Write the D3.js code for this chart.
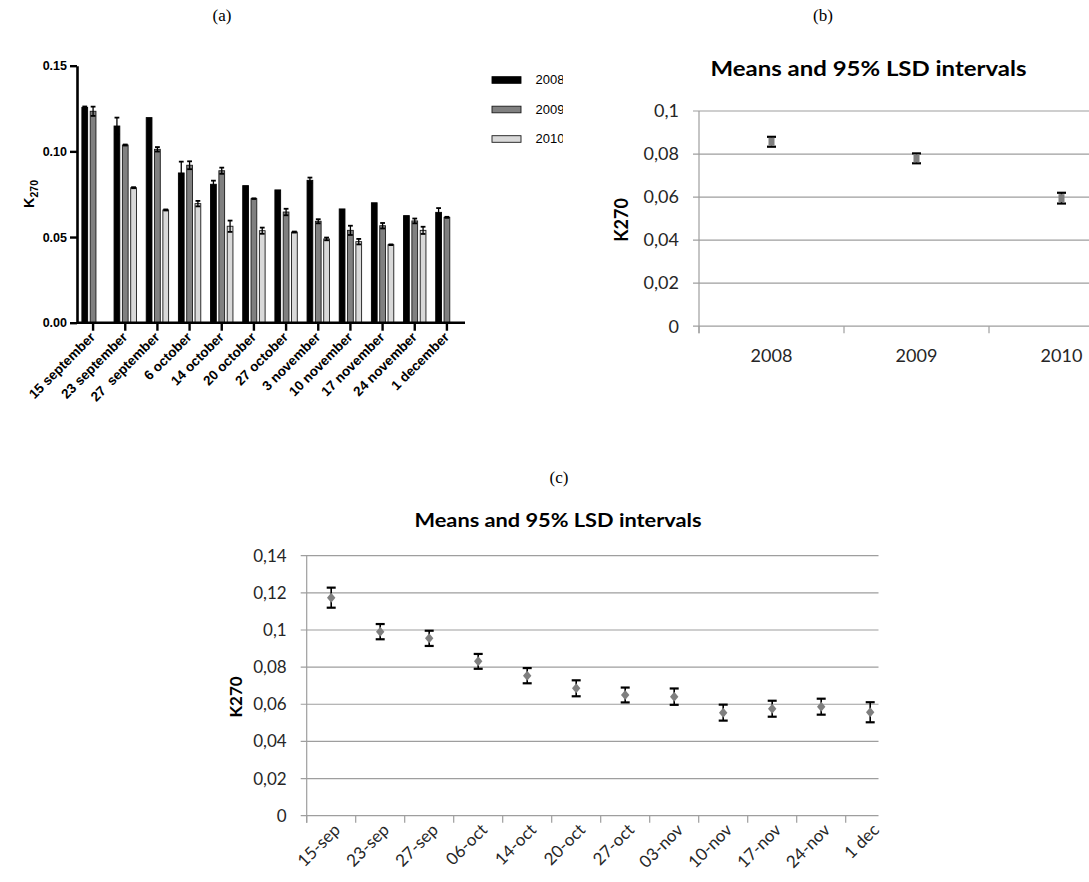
<!DOCTYPE html>
<html>
<head>
<meta charset="utf-8">
<script src="https://cdn.jsdelivr.net/npm/d3@7"></script>
<style>
  html, body { margin: 0; padding: 0; background: #fff; }
  svg { display: block; }
</style>
</head>
<body>
<svg id="fig" width="1089" height="882"></svg>
<script>
// ---------- (a) K270 by sampling date and season ----------
const datesA = ["15 september", "23 september", "27  september", "6 october", "14 october", "20 october",
                "27 october", "3 november", "10 november", "17 november", "24 november", "1 december"];
const yearsA = ["2008", "2009", "2010"];
const k2008 = [0.1257, 0.1148, 0.1197, 0.0874, 0.0808, 0.0800, 0.0775, 0.0831, 0.0664, 0.0700, 0.0625, 0.0644];
const e2008 = [0.0005, 0.0049, 0.0000, 0.0066, 0.0021, 0.0000, 0.0000, 0.0016, 0.0000, 0.0000, 0.0000, 0.0025];
const k2009 = [0.1234, 0.1037, 0.1012, 0.0919, 0.0887, 0.0724, 0.0646, 0.0592, 0.0539, 0.0566, 0.0594, 0.0615];
const e2009 = [0.0027, 0.0003, 0.0013, 0.0023, 0.0018, 0.0002, 0.0019, 0.0012, 0.0027, 0.0016, 0.0014, 0.0003];
const k2010 = [null, 0.0788, 0.0658, 0.0695, 0.0563, 0.0537, 0.0529, 0.0489, 0.0473, 0.0455, 0.0539, null];
const e2010 = [null, 0.0003, 0.0003, 0.0016, 0.0033, 0.0018, 0.0003, 0.0008, 0.0016, 0.0002, 0.0021, null];
const ticksA = [0, 0.05, 0.10, 0.15];

// ---------- (b) yearly means with 95% LSD intervals ----------
const yearsB = ["2008", "2009", "2010"];
const meansB = [0.0857, 0.0780, 0.0595];
const lsdB = [0.0023, 0.0023, 0.0025];
const ticksB = [0, 0.02, 0.04, 0.06, 0.08, 0.1];

// ---------- (c) date means with 95% LSD intervals ----------
const datesC = ["15-sep", "23-sep", "27-sep", "06-oct", "14-oct", "20-oct",
                "27-oct", "03-nov", "10-nov", "17-nov", "24-nov", "1 dec"];
const meansC = [0.1174, 0.0991, 0.0955, 0.0831, 0.0754, 0.0686, 0.0650, 0.0641, 0.0555, 0.0576, 0.0587, 0.0557];
const lsdC = [0.0054, 0.0041, 0.0041, 0.0040, 0.0041, 0.0043, 0.0040, 0.0044, 0.0043, 0.0043, 0.0043, 0.0054];
const ticksC = [0, 0.02, 0.04, 0.06, 0.08, 0.1, 0.12, 0.14];

const svg = d3.select("#fig");
const commaFmt = d => String(+d.toFixed(2)).replace(".", ",");

// panel letters
const serif = "'Liberation Serif', 'Times New Roman', serif";
[["(a)", 222, 21], ["(b)", 823, 21], ["(c)", 559, 483]].forEach(([t, x, y]) => {
  svg.append("text").attr("x", x).attr("y", y).attr("text-anchor", "middle")
    .style("font-family", serif).style("font-size", "17px").text(t);
});

// ================= panel (a): grouped bars =================
(function () {
  const sans = "'Liberation Sans', Arial, sans-serif";
  const g = svg.append("g");
  const y = d3.scaleLinear().domain([0, 0.15]).range([322.7, 65.7]);
  const x = d3.scaleBand().domain(datesA).range([77, 463]).padding(0);
  const xs = d3.scaleBand().domain(yearsA)
    .range([3.6, x.bandwidth() - 3.6]).paddingInner(0.31).paddingOuter(0.155);

  const series = [
    { year: "2008", vals: k2008, errs: e2008, fill: "#000000", stroke: "#000000" },
    { year: "2009", vals: k2009, errs: e2009, fill: "#808080", stroke: "#1a1a1a" },
    { year: "2010", vals: k2010, errs: e2010, fill: "#d9d9d9", stroke: "#1a1a1a" }
  ];
  const rows = [];
  series.forEach(s => s.vals.forEach((v, i) => {
    if (v != null) rows.push({ date: datesA[i], year: s.year, v, e: s.errs[i], fill: s.fill, stroke: s.stroke });
  }));

  g.selectAll("rect.bar").data(rows).join("rect").attr("class", "bar")
    .attr("x", d => x(d.date) + xs(d.year))
    .attr("width", xs.bandwidth())
    .attr("y", d => y(d.v))
    .attr("height", d => y(0) - y(d.v))
    .attr("fill", d => d.fill)
    .attr("stroke", d => d.stroke)
    .attr("stroke-width", 0.9);

  // error bars
  const eb = g.selectAll("g.err").data(rows.filter(d => d.e > 0)).join("g").attr("class", "err")
    .attr("stroke", "#000").attr("stroke-width", 1.3);
  const cx = d => x(d.date) + xs(d.year) + xs.bandwidth() / 2;
  eb.append("line").attr("x1", cx).attr("x2", cx).attr("y1", d => y(d.v - d.e)).attr("y2", d => y(d.v + d.e));
  eb.append("line").attr("x1", d => cx(d) - 2.4).attr("x2", d => cx(d) + 2.4)
    .attr("y1", d => y(d.v + d.e)).attr("y2", d => y(d.v + d.e)).attr("stroke-width", 1.8);
  eb.append("line").attr("x1", d => cx(d) - 2.4).attr("x2", d => cx(d) + 2.4)
    .attr("y1", d => y(d.v - d.e)).attr("y2", d => y(d.v - d.e)).attr("stroke-width", 1.8);

  // axes
  const yAxis = g.append("g").attr("transform", "translate(77,0)")
    .call(d3.axisLeft(y).tickValues(ticksA).tickFormat(d3.format(".2f")).tickSize(7).tickSizeOuter(0).tickPadding(3));
  const xAxis = g.append("g").attr("transform", "translate(0,322.7)")
    .call(d3.axisBottom(x).tickSize(8).tickSizeOuter(0).tickFormat(""));
  xAxis.select(".domain").attr("d", "M77,0H465");
  [yAxis, xAxis].forEach(a => {
    a.select(".domain").attr("stroke", "#000").attr("stroke-width", 2.6);
    a.selectAll(".tick line").attr("stroke", "#000").attr("stroke-width", 2.4);
  });
  yAxis.selectAll("text").style("font-family", sans).style("font-size", "12.5px")
    .style("font-weight", "bold").attr("fill", "#000");

  g.selectAll("text.xl").data(datesA).join("text").attr("class", "xl")
    .attr("transform", d => `translate(${x(d) + x.bandwidth() / 2 + 3},${338}) rotate(-45)`)
    .attr("text-anchor", "end")
    .style("font-family", sans).style("font-size", "13.5px").style("font-weight", "bold")
    .style("white-space", "pre")
    .text(d => d);

  // axis title K270
  const yt = g.append("text").attr("transform", "translate(34,194) rotate(-90)")
    .attr("text-anchor", "middle").style("font-family", sans).style("font-weight", "bold").style("font-size", "14.5px");
  yt.append("tspan").text("K");
  yt.append("tspan").attr("dy", 4).style("font-size", "10.5px").text("270");

  // legend (clipped at the panel edge)
  svg.append("clipPath").attr("id", "legclip").append("rect").attr("x", 480).attr("y", 60).attr("width", 83).attr("height", 100);
  const leg = g.append("g").attr("clip-path", "url(#legclip)");
  const ly = d3.scalePoint().domain(yearsA).range([80, 139]);
  leg.selectAll("rect").data(series).join("rect")
    .attr("x", 492).attr("width", 29).attr("y", d => ly(d.year) - 3.3).attr("height", 6.6)
    .attr("fill", d => d.fill).attr("stroke", d => d.stroke).attr("stroke-width", 0.9);
  leg.selectAll("text").data(series).join("text")
    .attr("x", 535.5).attr("y", d => ly(d.year) + 4.4)
    .style("font-family", sans).style("font-size", "13px").text(d => d.year);
})();

// ============ shared drawing for Excel-style interval panels ============
function intervalPanel(opts) {
  const font = "Lato, 'Open Sans', sans-serif";
  const g = svg.append("g");
  const { x, y, cats, means, lsd, ticks, right, tickFont, marker } = opts;
  const left = x.range()[0];
  const clipId = opts.id + "clip";
  svg.append("clipPath").attr("id", clipId).append("rect")
    .attr("x", left - 10).attr("y", 0).attr("width", right - left + 10).attr("height", 882);

  // horizontal gridlines and y tick marks
  g.selectAll("line.grid").data(ticks).join("line").attr("class", "grid")
    .attr("x1", left - 6).attr("x2", right).attr("y1", d => y(d)).attr("y2", d => y(d))
    .attr("stroke", "#9e9e9e").attr("stroke-width", 1.2);
  g.append("line").attr("x1", left).attr("x2", left)
    .attr("y1", y(ticks[ticks.length - 1])).attr("y2", y(0) + 7)
    .attr("stroke", "#9e9e9e").attr("stroke-width", 1.2);
  g.selectAll("text.yl").data(ticks).join("text").attr("class", "yl")
    .attr("x", left - 20).attr("y", d => y(d)).attr("dy", "0.35em").attr("text-anchor", "end")
    .attr("fill", "#262626").style("font-family", font).style("font-size", tickFont + "px")
    .text(commaFmt);

  // x tick marks at category boundaries
  const xg = g.append("g").attr("clip-path", `url(#${clipId})`);
  xg.selectAll("line.xt").data(cats).join("line").attr("class", "xt")
    .attr("x1", d => x(d)).attr("x2", d => x(d)).attr("y1", y(0)).attr("y2", y(0) + 7)
    .attr("stroke", "#9e9e9e").attr("stroke-width", 1.2);

  // error bars and markers
  const cx = i => x(cats[i]) + x.bandwidth() / 2;
  const pts = g.selectAll("g.pt").data(means).join("g").attr("class", "pt");
  pts.append("line").attr("x1", (d, i) => cx(i)).attr("x2", (d, i) => cx(i))
    .attr("y1", (d, i) => y(d - lsd[i])).attr("y2", (d, i) => y(d + lsd[i]))
    .attr("stroke", "#000").attr("stroke-width", 1.6);
  [1, -1].forEach(s => {
    pts.append("line").attr("x1", (d, i) => cx(i) - 4.5).attr("x2", (d, i) => cx(i) + 4.5)
      .attr("y1", (d, i) => y(d + s * lsd[i])).attr("y2", (d, i) => y(d + s * lsd[i]))
      .attr("stroke", "#000").attr("stroke-width", 2.2);
  });
  if (marker === "square") {
    pts.append("rect").attr("x", (d, i) => cx(i) - 3).attr("y", d => y(d) - 4)
      .attr("width", 6).attr("height", 8).attr("fill", "#7f7f7f");
  } else {
    pts.append("path").attr("transform", (d, i) => `translate(${cx(i)},${y(d)})`)
      .attr("d", "M0,-5L4.2,0L0,5L-4.2,0Z").attr("fill", "#7f7f7f");
  }

  // category labels
  if (opts.rotate) {
    g.selectAll("text.xl").data(cats).join("text").attr("class", "xl")
      .attr("transform", d => `translate(${x(d) + x.bandwidth() / 2 + opts.labelDx},${opts.labelY}) rotate(-45)`)
      .attr("text-anchor", "end").attr("fill", "#262626")
      .style("font-family", font).style("font-size", tickFont + "px").text(d => d);
  } else {
    g.selectAll("text.xl").data(cats).join("text").attr("class", "xl")
      .attr("x", d => x(d) + x.bandwidth() / 2).attr("y", opts.labelY).attr("text-anchor", "middle")
      .attr("fill", "#262626").style("font-family", font).style("font-size", tickFont + "px").text(d => d);
  }

  // title and axis title
  g.append("text").attr("x", opts.titleX).attr("y", opts.titleY).attr("text-anchor", "middle")
    .attr("textLength", opts.titleW).attr("lengthAdjust", "spacingAndGlyphs")
    .style("font-family", font).style("font-weight", "bold").style("font-size", opts.titleFont + "px")
    .attr("fill", "#000").text("Means and 95% LSD intervals");
  g.append("text").attr("transform", `translate(${opts.ytX},${opts.ytY}) rotate(-90)`)
    .attr("text-anchor", "middle").style("font-family", font).style("font-weight", "bold")
    .style("font-size", opts.ytFont + "px").attr("fill", "#000").text("K270");
}

// ================= panel (b) =================
intervalPanel({
  id: "b",
  x: d3.scaleBand().domain(yearsB).range([699, 1134]).padding(0),
  y: d3.scaleLinear().domain([0, 0.1]).range([326.2, 111]),
  cats: yearsB, means: meansB, lsd: lsdB, ticks: ticksB,
  right: 1089, tickFont: 18, marker: "square",
  rotate: false, labelY: 361.5,
  titleX: 868.5, titleY: 75.5, titleW: 316, titleFont: 20,
  ytX: 628, ytY: 220, ytFont: 18
});

// ================= panel (c) =================
intervalPanel({
  id: "c",
  x: d3.scaleBand().domain(datesC).range([306.7, 894.7]).padding(0),
  y: d3.scaleLinear().domain([0, 0.14]).range([815.7, 555.7]),
  cats: datesC, means: meansC, lsd: lsdC, ticks: ticksC,
  right: 878.5, tickFont: 17, marker: "diamond",
  rotate: true, labelDx: 10, labelY: 831,
  titleX: 558, titleY: 526.5, titleW: 287, titleFont: 19,
  ytX: 242, ytY: 697, ytFont: 17
});
</script>
</body>
</html>
